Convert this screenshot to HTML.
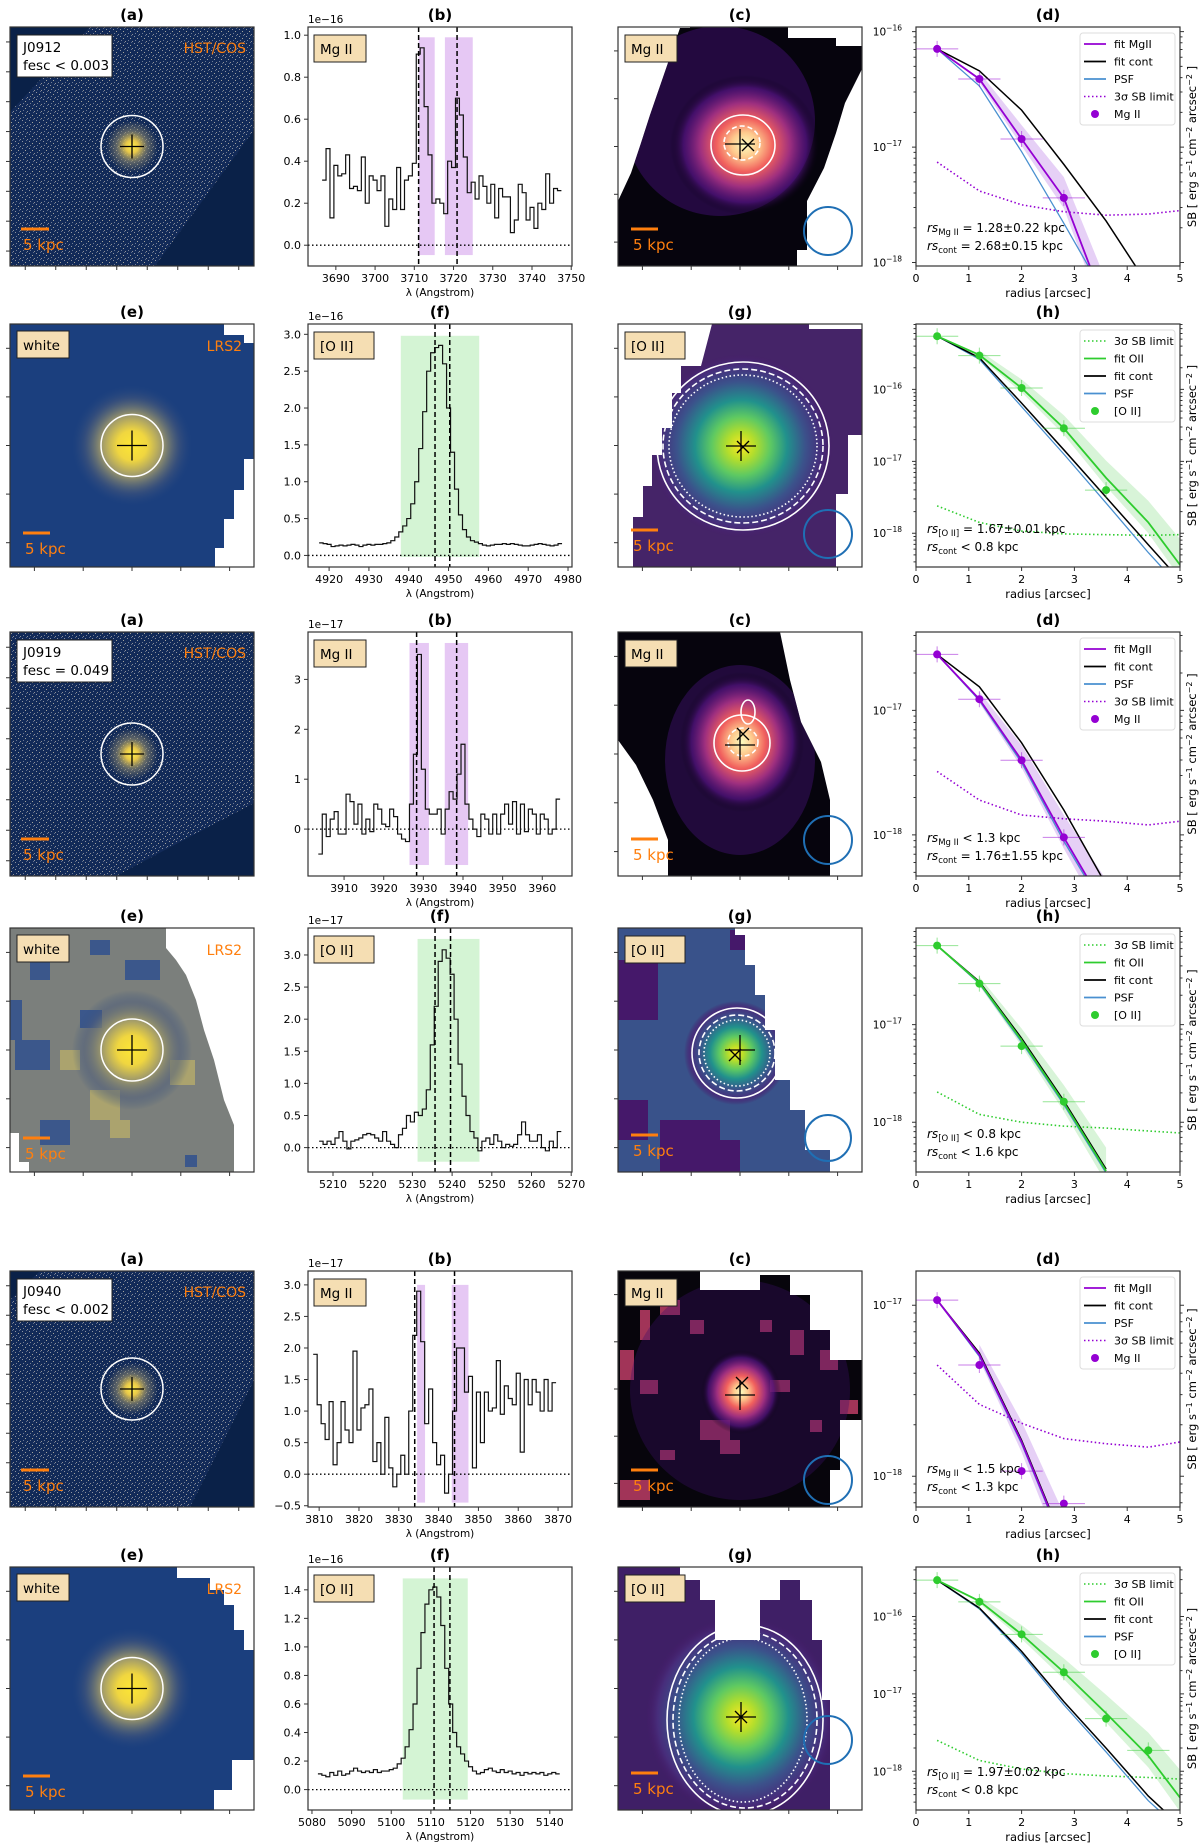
<!DOCTYPE html>
<html><head><meta charset="utf-8"><title>Extended emission figure</title>
<style>
html,body{margin:0;padding:0;background:#fff;}
svg{display:block;font-family:"DejaVu Sans","Liberation Sans",sans-serif;}
</style></head>
<body>
<svg id="fig" width="1200" height="1845" viewBox="0 0 1200 1845" xmlns="http://www.w3.org/2000/svg">
<defs>
<pattern id="speck" width="7" height="7" patternUnits="userSpaceOnUse">
<rect width="7" height="7" fill="#122a58"/>
<rect x="1" y="1" width="1" height="1" fill="#8d93a0"/>
<rect x="4" y="3" width="1" height="1" fill="#a3a39a"/>
<rect x="2" y="5" width="1" height="1" fill="#6f7c95"/>
<rect x="6" y="6" width="1" height="1" fill="#8d8f95"/>
<rect x="5" y="0" width="1" height="1" fill="#5e6d8c"/>
</pattern>
<radialGradient id="hstCore"><stop offset="0" stop-color="#fff04a"/><stop offset="0.25" stop-color="#e8c84a"/><stop offset="0.6" stop-color="#8f8a70" stop-opacity="0.6"/><stop offset="1" stop-color="#8f8a70" stop-opacity="0"/></radialGradient>
<radialGradient id="lrsCore"><stop offset="0" stop-color="#fde634"/><stop offset="0.25" stop-color="#f0d640"/><stop offset="0.5" stop-color="#a09a6a"/><stop offset="0.8" stop-color="#4a5a7a" stop-opacity="0.5"/><stop offset="1" stop-color="#2a4a80" stop-opacity="0"/></radialGradient>
<radialGradient id="magma"><stop offset="0" stop-color="#fcfdbf"/><stop offset="0.18" stop-color="#fec98d"/><stop offset="0.38" stop-color="#f1605d"/><stop offset="0.6" stop-color="#9e2f7f"/><stop offset="0.82" stop-color="#51127c" stop-opacity="0.7"/><stop offset="1" stop-color="#000004" stop-opacity="0"/></radialGradient>
<radialGradient id="viridis"><stop offset="0" stop-color="#fde725"/><stop offset="0.15" stop-color="#b5de2b"/><stop offset="0.32" stop-color="#5ec962"/><stop offset="0.5" stop-color="#21918c"/><stop offset="0.7" stop-color="#3b528b"/><stop offset="0.88" stop-color="#472d7b"/><stop offset="1" stop-color="#471a6a" stop-opacity="0"/></radialGradient>
</defs>
</svg>
<script>
// ---------------- data ----------------
const spec1Start = 3687, spec1Step = 1;
const spec1Flux = [.31,.46,.13,.38,.33,.34,.43,.27,.28,.26,.42,.2,.33,.31,.26,.33,.09,.22,.17,.37,.17,.31,.33,.39,.91,.94,.66,.43,.2,.22,.2,.15,.4,.37,.7,.62,.42,.25,.3,.22,.33,.28,.2,.29,.13,.27,.23,.23,.06,.12,.29,.25,.12,.18,.08,.2,.17,.34,.2,.27,.26];
const spec2Start = 4918, spec2Step = 1;
const spec2Flux = [.17,.16,.15,.12,.13,.14,.13,.14,.15,.14,.12,.14,.15,.14,.15,.15,.16,.17,.2,.25,.32,.4,.5,.7,1.0,1.45,1.95,2.5,2.75,2.82,2.85,2.6,2.0,1.4,.9,.55,.35,.25,.2,.18,.16,.14,.13,.14,.15,.15,.16,.15,.16,.15,.14,.13,.13,.14,.15,.16,.15,.14,.13,.14,.16];
const spec3Start = 3904, spec3Step = 1;
const spec3Flux = [-.5,.3,-.15,.2,.35,-.1,-.1,.7,.55,.1,.5,-.1,.2,-.05,.5,.4,.1,.05,.4,.25,-.1,-.2,-.25,.5,1.5,3.5,1.2,.4,.3,.3,.4,-.1,.4,.75,.6,1.1,1.7,.5,.2,0,-.15,.3,.2,-.1,.3,-.1,.3,.5,.1,.55,-.1,.5,-.05,.4,.3,-.1,.3,.2,-.1,0,.6];
const spec4Start = 5207, spec4Step = 1;
const spec4Flux = [.1,.05,.1,.05,.15,.25,.1,-.02,.1,.12,.15,.2,.22,.2,.15,.1,.25,.1,.05,0,.2,.3,.5,.4,.55,.5,.6,.9,1.6,2.2,2.9,3.08,2.95,2.7,2.0,1.3,.8,.5,.25,.15,-.05,.1,.15,.05,.2,.1,0,.05,.02,.05,.2,.4,.2,.1,.1,.2,0,-.05,.1,0,.25];
const spec5Start = 3809, spec5Step = 1;
const spec5Flux = [1.9,1.1,.8,.55,1.15,.15,.5,1.15,.7,.5,1.95,.7,1.05,1.1,1.35,.2,.5,0,.9,.1,-.2,0,.3,0,1.0,2.2,2.9,2.1,.8,1.35,.5,.15,.3,-.3,0,1.0,2.0,2.0,1.3,1.55,.1,1.3,.5,1.3,1.0,1.05,1.8,.95,1.4,1.2,1.1,1.6,.35,1.5,1.1,1.5,1.3,1.0,1.5,1.0,1.45];
const spec6Start = 5082, spec6Step = 1;
const spec6Flux = [.11,.1,.09,.12,.1,.13,.1,.11,.13,.15,.13,.12,.13,.12,.14,.12,.13,.13,.14,.15,.18,.22,.3,.42,.6,.85,1.1,1.3,1.4,1.42,1.35,1.15,.85,.6,.4,.3,.25,.2,.16,.13,.11,.12,.14,.15,.13,.12,.14,.12,.13,.11,.12,.1,.12,.11,.12,.11,.12,.1,.11,.12,.11];
const specXTicks = [[3690,3700,3710,3720,3730,3740,3750],[4920,4930,4940,4950,4960,4970,4980],[3910,3920,3930,3940,3950,3960],[5210,5220,5230,5240,5250,5260,5270],[3810,3820,3830,3840,3850,3860,3870],[5080,5090,5100,5110,5120,5130,5140]];
const specYTicks = [[0,0.2,0.4,0.6,0.8,1.0],[0,0.5,1,1.5,2,2.5,3],[0,1,2,3],[0,0.5,1,1.5,2,2.5,3],[-0.5,0,0.5,1,1.5,2,2.5,3],[0,0.2,0.4,0.6,0.8,1.0,1.2,1.4]];
const specXRange = [[3682.9,3750.2],[4914.7,4981],[3900.9,3967.5],[5203.7,5270.2],[3807.2,3873.5],[5079,5145.6]];
const specYRange = [[-0.099,1.039],[-0.157,3.14],[-0.94,3.95],[-0.38,3.42],[-0.52,3.22],[-0.143,1.56]];
const specLines = [[3711.1,3720.9],[4946.6,4950.3],[3928.3,3938.4],[5235.7,5239.6],[3834,3844],[5110.8,5114.8]];
const specBands = [[[3711.1,3715.2],[3717.8,3724.9]],[[4938,4957.7]],[[3926.5,3931.4],[3935.4,3941.3]],[[5231.3,5246.9]],[[3834.6,3836.6],[3843.3,3847.5]],[[5102.9,5119.3]]];
const specBandY = [[-0.047,0.99],[-0.02,2.98],[-0.72,3.73],[-0.22,3.25],[-0.45,3.0],[-0.07,1.48]];
const specExp = ['1e\u221216','1e\u221216','1e\u221217','1e\u221217','1e\u221217','1e\u221216'];
const specLabel = ['Mg II','[O II]','Mg II','[O II]','Mg II','[O II]'];

const profR = [0.4,1.2,2.0,2.8,3.6,4.4,5.0];
const prof1Pts = [-16.15,-16.41,-16.93,-17.44];
const prof1Fit = [-16.15,-16.41,-16.93,-17.44,-18.4];
const prof1Cont = [-16.15,-16.34,-16.68,-17.15,-17.64,-18.2];
const prof1Psf = [-16.15,-16.47,-17.04,-17.66,-18.3];
const prof1Lim = [-17.13,-17.38,-17.5,-17.56,-17.59,-17.58,-17.55];
const prof2Pts = [-15.26,-15.53,-15.98,-16.54,-17.40];
const prof2Fit = [-15.26,-15.52,-15.98,-16.54,-17.23,-17.85,-18.44];
const prof2Cont = [-15.26,-15.56,-16.19,-16.84,-17.5,-18.16,-18.65];
const prof2Psf = [-15.26,-15.58,-16.24,-16.9,-17.58,-18.27,-18.75];
const prof2Lim = [-17.62,-17.85,-17.97,-18.01,-18.02,-18.03,-18.02];
const prof3Pts = [-16.55,-16.91,-17.40,-18.02];
const prof3Fit = [-16.55,-16.91,-17.40,-18.02,-18.6];
const prof3Cont = [-16.55,-16.81,-17.26,-17.80,-18.4];
const prof3Psf = [-16.55,-16.92,-17.42,-18.05,-18.62];
const prof3Lim = [-17.49,-17.72,-17.84,-17.87,-17.89,-17.92,-17.89];
const prof4Pts = [-16.19,-16.58,-17.22,-17.79];
const prof4Fit = [-16.19,-16.57,-17.16,-17.8,-18.5];
const prof4Cont = [-16.19,-16.56,-17.14,-17.78,-18.48];
const prof4Psf = [-16.19,-16.58,-17.18,-17.82,-18.52];
const prof4Lim = [-17.69,-17.92,-18.0,-18.04,-18.06,-18.09,-18.11];
const prof5Pts = [-16.97,-17.35,-17.97,-18.16];
const prof5Fit = [-16.97,-17.29,-17.8,-18.4];
const prof5Cont = [-16.97,-17.28,-17.79,-18.39];
const prof5Psf = [-16.97,-17.3,-17.81,-18.41];
const prof5Lim = [-17.35,-17.58,-17.69,-17.78,-17.81,-17.83,-17.80];
const prof6Pts = [-15.53,-15.81,-16.23,-16.72,-17.32,-17.73];
const prof6Fit = [-15.53,-15.8,-16.23,-16.72,-17.25,-17.8,-18.34];
const prof6Cont = [-15.53,-15.89,-16.45,-17.1,-17.7,-18.32,-18.7];
const prof6Psf = [-15.53,-15.9,-16.48,-17.14,-17.75,-18.38,-18.75];
const prof6Lim = [-17.6,-17.86,-17.97,-18.03,-18.06,-18.08,-18.1];
const profYRange = [[-18.03,-15.96],[-18.47,-15.09],[-18.33,-16.37],[-18.51,-16.01],[-18.18,-16.80],[-18.5,-15.36]];
const profXTicks = [0,1,2,3,4,5];

// ---------------- layout ----------------
const NS = 'http://www.w3.org/2000/svg';
const svg = document.getElementById('fig');
const COLS = {a:[10,244], b:[308,264], c:[618,244], d:[916,264]};
const ROWS = [[27,266],[324,567],[632,876],[928,1172],[1271,1507],[1567,1810]];
const PURPLE = '#9400d3', GREEN = '#2ecc2e', PSFC = '#4a90d0';

function mk(tag, attrs, parent){
  const e = document.createElementNS(NS, tag);
  for (const k in attrs) e.setAttribute(k, attrs[k]);
  (parent || svg).appendChild(e);
  return e;
}
function txt(s, x, y, size, parent, extra){
  const t = mk('text', Object.assign({x:x, y:y, 'font-size':size, fill:'#000'}, extra || {}), parent);
  t.textContent = s;
  return t;
}
function frame(g, x, y, w, h){
  const r = mk('rect', {x:x, y:y, width:w, height:h, fill:'none', stroke:'#333', 'stroke-width':1.2}, g);
  
  
}
function title(g, s, cx, y){
  const t = txt(s, cx, y, 15, g, {'text-anchor':'middle', 'font-weight':'bold'});
  
  
}
function labelBox(g, s, x, y, fill, lines){
  const w = lines ? 95 : Math.max(38, s.length * 8 + 12);
  const h = lines ? 42 : 27;
  const r = mk('rect', {x:x, y:y, width:w, height:h, fill:fill, stroke:'#222', 'stroke-width':1}, g);
  
  
  if (lines) {
    const t1 = txt(lines[0], x+6, y+17, 13.5, g);
    
    
    const t2 = txt(lines[1], x+6, y+35, 13.5, g);
    
    
  } else {
    const t = txt(s, x+6, y+19, 13.5, g);
    
    
  }
}

function imageTicks(g, x, y, w, h, nx, ny){
  for (let i=0;i<nx;i++){
    const tx = x + (i+0.5)*w/nx;
    const t = mk('line', {x1:tx, y1:y+h, x2:tx, y2:y+h+4, stroke:'#333'}, g);
    
    
  }
  for (let i=0;i<ny;i++){
    const ty = y + (i+0.5)*h/ny;
    const t = mk('line', {x1:x, y1:ty, x2:x-4, y2:ty, stroke:'#333'}, g);
    
    
  }
}
function cross(g, cx, cy, s){
  const p = mk('path', {d:`M${cx-s} ${cy}H${cx+s}M${cx} ${cy-s}V${cy+s}`, stroke:'#000', 'stroke-width':1.3}, g);
  
  
}
function xmark(g, cx, cy, s){
  const p = mk('path', {d:`M${cx-s} ${cy-s}L${cx+s} ${cy+s}M${cx-s} ${cy+s}L${cx+s} ${cy-s}`, stroke:'#000', 'stroke-width':1.3}, g);
  
  
}
function scaleBar(g, x, y, len){
  const l = mk('line', {x1:x, y1:y, x2:x+len, y2:y, stroke:'#ff7f0e', 'stroke-width':3}, g);
  
  
  const t = txt('5 kpc', x+2, y+21, 15, g, {fill:'#ff7f0e'});
  
  
}
function poly(g, pts, fill, name){
  const p = mk('polygon', {points:pts.map(p=>p.join(',')).join(' '), fill:fill}, g);
  
  
  return p;
}
function psfCircle(g, cx, cy, r){
  const c = mk('circle', {cx:cx, cy:cy, r:r, fill:'none', stroke:'#1f6fb4', 'stroke-width':2}, g);
  
  
}
function contour(g, cx, cy, rx, ry, dash, name){
  const e = mk('ellipse', {cx:cx, cy:cy, rx:rx, ry:ry, fill:'none', stroke:'#fff', 'stroke-width':1.6}, g);
  if (dash) e.setAttribute('stroke-dasharray', dash);
  
  
}

function panelA(ri, name, fesc, darkPolys, lbl){
  const [x,w] = COLS.a, [y0,y1] = ROWS[ri], h = y1-y0;
  const g = mk('g', {});  
  const clip = mk('clipPath', {id:'clipA'+ri}, g);
  mk('rect', {x:x, y:y0, width:w, height:h}, clip);
  const ig = mk('g', {'clip-path':`url(#clipA${ri})`}, g);
  const bg = mk('rect', {x:x, y:y0, width:w, height:h, fill:'url(#speck)'}, ig);
  
  
  darkPolys.forEach(p => poly(ig, p, '#0a2148', 'image-footprint-edge'));
  const cx = x + w/2, cy = (y0+y1)/2;
  const core = mk('circle', {cx:cx, cy:cy, r:26, fill:'url(#hstCore)'}, ig);
  
  
  const ap = mk('ellipse', {cx:cx, cy:cy, rx:31, ry:31, fill:'none', stroke:'#fff', 'stroke-width':1.5}, ig);
  
  
  cross(ig, cx, cy, 12);
  frame(g, x, y0, w, h);
  imageTicks(g, x, y0, w, h, 8, 8);
  title(g, '(a)', cx, y0-7);
  labelBox(g, '', x+7, y0+8, '#fff', [name, fesc]);
  const tl = txt(lbl, x+w-8, y0+26, 14, g, {fill:'#ff7f0e', 'text-anchor':'end'});
  
  
  scaleBar(g, x+11, y1-37, 28);
}

function panelE(ri, base, whitePolys, extra){
  const [x,w] = COLS.a, [y0,y1] = ROWS[ri], h = y1-y0;
  const g = mk('g', {});  
  const bg = mk('rect', {x:x, y:y0, width:w, height:h, fill:base}, g);
  
  
  if (extra) extra(g, x, y0, w, h);
  const cx = x + w/2, cy = (y0+y1)/2;
  const core = mk('circle', {cx:cx, cy:cy, r:60, fill:'url(#lrsCore)'}, g);
  
  
  whitePolys.forEach(p => poly(g, p, '#fff', 'no-data-region'));
  const ap = mk('circle', {cx:cx, cy:cy, r:31, fill:'none', stroke:'#fff', 'stroke-width':1.5}, g);
  
  
  cross(g, cx, cy, 15);
  frame(g, x, y0, w, h);
  imageTicks(g, x, y0, w, h, 5, 5);
  title(g, '(e)', cx, y0-7);
  labelBox(g, 'white', x+7, y0+7, '#f5deb3');
  const tl = txt('LRS2', x+w-12, y0+27, 14, g, {fill:'#ff7f0e', 'text-anchor':'end'});
  
  
  scaleBar(g, x+13, y1-34, 27);
}

function panelMap(ri, letter, lab, bgFill, foot, grad, blob, contours, marks, psf, extra){
  const [x,w] = COLS.c, [y0,y1] = ROWS[ri], h = y1-y0;
  const g = mk('g', {});  
  const clip = mk('clipPath', {id:'clipC'+ri}, g);
  mk('polygon', {points:foot.map(p=>p.join(',')).join(' ')}, clip);
  const ig = mk('g', {'clip-path':`url(#clipC${ri})`}, g);
  const bg = mk('rect', {x:x, y:y0, width:w, height:h, fill:bgFill}, ig);
  
  
  if (extra) extra(ig);
  const b = mk('ellipse', {cx:blob[0], cy:blob[1], rx:blob[2], ry:blob[3], fill:grad}, ig);
  
  
  contours.forEach(c => contour(ig, c[0], c[1], c[2], c[3], c[4], 'sb-contour'));
  cross(ig, marks[0], marks[1], 15);
  xmark(ig, marks[2], marks[3], 6);
  psfCircle(g, psf[0], psf[1], psf[2]);
  frame(g, x, y0, w, h);
  imageTicks(g, x, y0, w, h, 5, 5);
  title(g, letter, x+w/2, y0-7);
  labelBox(g, lab, x+7, y0+8, '#f5deb3');
  scaleBar(g, x+13, y1-37, 27);
}

function panelSpec(ri, letter, start, step, flux, bandColor){
  const [x,w] = COLS.b, [y0,y1] = ROWS[ri], h = y1-y0;
  const [xmin,xmax] = specXRange[ri], [ymin,ymax] = specYRange[ri];
  const X = v => x + (v-xmin)/(xmax-xmin)*w;
  const Y = v => y1 - (v-ymin)/(ymax-ymin)*h;
  const g = mk('g', {});  
  specBands[ri].forEach(bd => {
    const r = mk('rect', {x:X(bd[0]), y:Y(specBandY[ri][1]), width:X(bd[1])-X(bd[0]), height:Y(specBandY[ri][0])-Y(specBandY[ri][1]), fill:bandColor}, g);
    
    
  });
  const z = mk('line', {x1:x, y1:Y(0), x2:x+w, y2:Y(0), stroke:'#000', 'stroke-width':1.3, 'stroke-dasharray':'1.5 2.5'}, g);
  
  
  let d = '';
  flux.forEach((f,i) => {
    const wl = start + i*step;
    const xa = X(wl - step/2), xb = X(wl + step/2);
    d += (i===0 ? `M${xa} ${Y(f)}` : `V${Y(f)}`) + `H${xb}`;
  });
  const p = mk('path', {d:d, fill:'none', stroke:'#111', 'stroke-width':1.2}, g);
  
  
  specLines[ri].forEach(l => {
    const v = mk('line', {x1:X(l), y1:y0, x2:X(l), y2:y1, stroke:'#000', 'stroke-width':1.5, 'stroke-dasharray':'5 3'}, g);
    
    
  });
  frame(g, x, y0, w, h);
  specXTicks[ri].forEach(t => {
    const tk = mk('line', {x1:X(t), y1:y1, x2:X(t), y2:y1+4, stroke:'#333'}, g);
    
    
    const tl = txt(String(t), X(t), y1+16, 11, g, {'text-anchor':'middle'});
    
    
  });
  specYTicks[ri].forEach(t => {
    const tk = mk('line', {x1:x, y1:Y(t), x2:x-4, y2:Y(t), stroke:'#333'}, g);
    
    
    const s = (ri===2) ? String(t) : t.toFixed(1).replace('-', '\u2212');
    const tl = txt(s, x-7, Y(t)+4, 11, g, {'text-anchor':'end'});
    
    
  });
  const ex = txt(specExp[ri], x, y0-4, 10.5, g);
  
  
  const xl = txt('\u03bb (Angstrom)', x+w/2, y1+30, 10.5, g, {'text-anchor':'middle'});
  
  
  title(g, letter, x+w/2, y0-7);
  labelBox(g, specLabel[ri], x+6, y0+8, '#f5deb3');
}

function panelProf(ri, letter, pts, fit, cont, psf, lim, lineColor, isMg, ann){
  const [x,w] = COLS.d, [y0,y1] = ROWS[ri], h = y1-y0;
  const [lmin,lmax] = profYRange[ri];
  const X = r => x + r/5*w;
  const Y = l => y1 - (l-lmin)/(lmax-lmin)*h;
  const g = mk('g', {});  
  const clip = mk('clipPath', {id:'clipD'+ri}, g);
  mk('rect', {x:x, y:y0, width:w, height:h}, clip);
  const pg = mk('g', {'clip-path':`url(#clipD${ri})`}, g);
  const band = isMg ? '#dcbcf2' : '#c8f0c8';
  let up = [], dn = [];
  fit.forEach((v,i) => { if (i>=1){ up.push([X(profR[i]), Y(v + 0.06*i)]); dn.push([X(profR[i]), Y(v - 0.03*i)]); } });
  const sh = mk('polygon', {points:up.concat(dn.reverse()).map(p=>p.join(',')).join(' '), fill:band, opacity:0.7}, pg);
  
  
  function line(arr, color, wdt, dash, name){
    const d = arr.map((v,i) => (i?'L':'M') + X(profR[i]) + ' ' + Y(v)).join('');
    const p = mk('path', {d:d, fill:'none', stroke:color, 'stroke-width':wdt}, pg);
    if (dash) p.setAttribute('stroke-dasharray', dash);
    
    
  }
  line(lim, lineColor, 1.6, '1.5 2.5', 'sb-limit-curve');
  line(psf, PSFC, 1.3, null, 'psf-curve');
  line(cont, '#000', 1.5, null, 'continuum-fit-curve');
  line(fit, lineColor, 1.8, null, 'line-fit-curve');
  pts.forEach((v,i) => {
    const px = X(profR[i]), py = Y(v);
    const eb = mk('path', {d:`M${X(profR[i]-0.4)} ${py}H${X(profR[i]+0.4)}M${px} ${py-8}V${py+8}`, stroke:lineColor, 'stroke-width':1, opacity:0.5}, pg);
    
    
    const c = mk('circle', {cx:px, cy:py, r:4, fill:lineColor}, pg);
    
    
  });
  frame(g, x, y0, w, h);
  profXTicks.forEach(t => {
    const tk = mk('line', {x1:X(t), y1:y1, x2:X(t), y2:y1+4, stroke:'#333'}, g);
    
    
    const tl = txt(String(t), X(t), y1+16, 11, g, {'text-anchor':'middle'});
    
    
  });
  for (let dec=-19; dec<=-15; dec++){
    for (let m=1; m<10; m++){
      const l = dec + Math.log10(m);
      if (l < lmin || l > lmax) continue;
      const ty = Y(l), len = m===1 ? 4 : 2.5;
      const tk = mk('path', {d:`M${x} ${ty}h${-len}M${x+w} ${ty}h${len}`, stroke:'#333'}, g);
      
      
      if (m===1){
        const tl = txt('10', x-14, ty+4, 10.5, g, {'text-anchor':'end'});
        const sup = mk('tspan', {dy:-5, 'font-size':7.5}, tl);
        sup.textContent = '\u2212' + (-dec);
        
        
      }
    }
  }
  const xl = txt('radius [arcsec]', x+w/2, y1+31, 11.5, g, {'text-anchor':'middle'});
  
  
  const yl = txt('', 1196, (y0+y1)/2, 11.5, g, {'text-anchor':'middle', transform:`rotate(-90 1196 ${(y0+y1)/2})`});
  yl.innerHTML = 'SB [ erg s<tspan dy="-4" font-size="8">\u22121</tspan><tspan dy="4"> cm</tspan><tspan dy="-4" font-size="8">\u22122</tspan><tspan dy="4"> arcsec</tspan><tspan dy="-4" font-size="8">\u22122</tspan><tspan dy="4"> ]</tspan>';
  
  
  title(g, letter, x+w/2, y0-7);
  const entries = isMg
    ? [['fit MgII','solid',lineColor],['fit cont','solid','#000'],['PSF','solid',PSFC],['3\u03c3 SB limit','dot',lineColor],['Mg II','pt',lineColor]]
    : [['3\u03c3 SB limit','dot',lineColor],['fit OII','solid',lineColor],['fit cont','solid','#000'],['PSF','solid',PSFC],['[O II]','pt',lineColor]];
  const lx = 1080, ly = y0+6;
  const lb = mk('rect', {x:lx, y:ly, width:95, height:92, fill:'#fff', stroke:'#ddd', rx:3}, g);
  
  
  entries.forEach((en,i) => {
    const ey = ly + 11 + i*17.5;
    if (en[1]==='pt'){
      const c = mk('circle', {cx:lx+15, cy:ey, r:4, fill:en[2]}, g);
      
      
    } else {
      const l = mk('line', {x1:lx+4, y1:ey, x2:lx+26, y2:ey, stroke:en[2], 'stroke-width':en[1]==='dot'?1.6:1.8}, g);
      if (en[1]==='dot') l.setAttribute('stroke-dasharray', '1.5 2.5');
      
      
    }
    const t = txt(en[0], lx+34, ey+4, 11, g);
    
    
  });
  ann.forEach((a,i) => {
    const t = txt('', 927, y1-34+i*18, 12, g);
    t.innerHTML = `<tspan font-style="italic">rs</tspan><tspan dy="3" font-size="8.5">${a[0]}</tspan><tspan dy="-3"> ${a[1]}</tspan>`;
    
    
  });
}

// ---------------- build ----------------
panelA(0, 'J0912', 'fesc < 0.003', [[[10,27],[90,27],[10,112]],[[254,130],[254,266],[155,266]]], 'HST/COS');
panelSpec(0, '(b)', spec1Start, spec1Step, spec1Flux, '#e6c8f4');
panelMap(0, '(c)', 'Mg II', '#06040d',
  [[690,27],[788,27],[788,38],[836,38],[836,46],[862,46],[862,69],[845,103],[836,133],[824,168],[807,201],[807,250],[797,250],[797,266],[618,266],[618,201],[631,173],[641,143],[650,115],[660,86],[670,57],[680,28],[690,28]],
  'url(#magma)', [745,145,75,70],
  [[743,145,32,30,null],[742,143,18,17,'5 3']], [740,144,748,145], [828,231,24],
  ig => { const pe = mk('ellipse',{cx:720,cy:121,rx:95,ry:95,fill:'#3c0f6a',opacity:0.55},ig);   });
panelProf(0, '(d)', prof1Pts, prof1Fit, prof1Cont, prof1Psf, prof1Lim, PURPLE, true,
  [['Mg II','= 1.28\u00b10.22 kpc'],['cont','= 2.68\u00b10.15 kpc']]);

panelE(1, '#1b3f7e', [[[215,567],[215,548],[224,548],[224,519],[234,519],[234,490],[244,490],[244,459],[254,459],[254,567]],[[224,324],[254,324],[254,343],[244,343],[244,335],[224,335]]]);
panelSpec(1, '(f)', spec2Start, spec2Step, spec2Flux, '#d4f4d4');
panelMap(1, '(g)', '[O II]', '#452468',
  [[712,324],[809,324],[809,329],[862,329],[862,435],[848,435],[848,494],[836,494],[836,567],[633,567],[633,517],[643,517],[643,486],[652,486],[652,455],[662,455],[662,428],[672,428],[672,393],[681,393],[681,366],[701,366],[712,324]],
  'url(#viridis)', [741,446,92,92],
  [[743,446,86,84,null],[743,446,80,77,'6 3'],[743,446,74,71,'1.5 2.5']], [741,446,743,447], [828,534,24]);
panelProf(1, '(h)', prof2Pts, prof2Fit, prof2Cont, prof2Psf, prof2Lim, GREEN, false,
  [['[O II]','= 1.67\u00b10.01 kpc'],['cont','< 0.8 kpc']]);

panelA(2, 'J0919', 'fesc = 0.049', [[[254,803],[254,876],[116,876]]], 'HST/COS');
panelSpec(2, '(b)', spec3Start, spec3Step, spec3Flux, '#e6c8f4');
panelMap(2, '(c)', 'Mg II', '#06040d',
  [[618,632],[780,632],[790,680],[801,722],[821,762],[830,800],[830,876],[668,876],[668,840],[653,800],[636,765],[618,740]],
  'url(#magma)', [742,742,62,70],
  [[742,743,28,28,null],[743,742,15,14,'5 3'],[748,712,7,12,null]], [740,745,743,734], [828,840,24],
  ig => { const pe = mk('ellipse',{cx:740,cy:760,rx:75,ry:95,fill:'#3c0f6a',opacity:0.5},ig);   });
panelProf(2, '(d)', prof3Pts, prof3Fit, prof3Cont, prof3Psf, prof3Lim, PURPLE, true,
  [['Mg II','< 1.3 kpc'],['cont','= 1.76\u00b11.55 kpc']]);

panelE(3, '#7b7f7c', [[[166,928],[254,928],[254,1172],[234,1172],[234,1125],[224,1100],[214,1060],[204,1030],[196,1000],[186,975],[176,960],[166,948]],[[10,1133],[19,1133],[19,1162],[29,1162],[29,1172],[10,1172]]],
  (g,x,y,w,h) => {
    [[10,1000,12,40],[15,1040,35,30],[80,1010,22,18],[40,1120,30,25],[185,1155,12,12],[90,940,20,15],[125,960,35,20],[30,960,20,20]].forEach(r => { const q = mk('rect',{x:r[0],y:r[1],width:r[2],height:r[3],fill:'#2c4e8e',opacity:0.8},g);   });
    [[90,1090,30,30],[170,1060,25,25],[110,1120,20,18],[60,1050,20,20]].forEach(r => { const q = mk('rect',{x:r[0],y:r[1],width:r[2],height:r[3],fill:'#b8ad6a',opacity:0.8},g);   });
  });
panelSpec(3, '(f)', spec4Start, spec4Step, spec4Flux, '#d4f4d4');
panelMap(3, '(g)', '[O II]', '#39528a',
  [[618,928],[735,928],[735,935],[745,935],[745,965],[755,965],[755,995],[765,995],[765,1030],[775,1030],[775,1080],[790,1080],[790,1110],[805,1110],[805,1150],[830,1150],[830,1172],[618,1172]],
  'url(#viridis)', [736,1053,52,52],
  [[737,1053,45,45,null],[737,1053,38,38,'6 3'],[737,1053,33,33,'1.5 2.5']], [740,1050,735,1055], [828,1138,23],
  ig => { [[618,960,40,60],[660,1120,60,52],[700,1140,40,32],[618,1100,30,40],[730,930,20,20]].forEach(r => { const q = mk('rect',{x:r[0],y:r[1],width:r[2],height:r[3],fill:'#45186a'},ig);   }); });
panelProf(3, '(h)', prof4Pts, prof4Fit, prof4Cont, prof4Psf, prof4Lim, GREEN, false,
  [['[O II]','< 0.8 kpc'],['cont','< 1.6 kpc']]);

panelA(4, 'J0940', 'fesc < 0.002', [[[254,1380],[254,1507],[190,1507]],[[10,1271],[40,1271],[10,1300]]], 'HST/COS');
panelSpec(4, '(b)', spec5Start, spec5Step, spec5Flux, '#e6c8f4');
panelMap(4, '(c)', 'Mg II', '#07050c',
  [[618,1271],[700,1271],[700,1290],[760,1290],[760,1275],[790,1275],[790,1295],[810,1295],[810,1330],[830,1330],[830,1360],[862,1360],[862,1420],[840,1420],[840,1470],[830,1470],[830,1507],[618,1507]],
  'url(#magma)', [741,1392,40,42], [], [740,1395,742,1383], [828,1480,24],
  ig => { [[640,1310,10,30],[660,1300,20,15],[690,1320,14,14],[790,1330,14,25],[820,1350,18,20],[840,1400,18,14],[810,1420,12,12],[700,1420,30,20],[720,1440,20,14],[620,1350,14,30],[640,1380,18,14],[770,1380,20,12],[620,1480,30,20],[660,1450,15,10],[760,1320,12,12]].forEach(r => { const q = mk('rect',{x:r[0],y:r[1],width:r[2],height:r[3],fill:'#c8406c',opacity:0.8},ig);   });
    const pe = mk('ellipse',{cx:740,cy:1390,rx:110,ry:110,fill:'#3c0f6a',opacity:0.35},ig);   });
panelProf(4, '(d)', prof5Pts, prof5Fit, prof5Cont, prof5Psf, prof5Lim, PURPLE, true,
  [['Mg II','< 1.5 kpc'],['cont','< 1.3 kpc']]);

panelE(5, '#1b3f7e', [[[177,1567],[254,1567],[254,1650],[244,1650],[244,1630],[234,1630],[234,1605],[224,1605],[224,1590],[210,1590],[210,1578],[177,1578]],[[254,1760],[254,1810],[214,1810],[214,1790],[232,1790],[232,1760]]]);
panelSpec(5, '(f)', spec6Start, spec6Step, spec6Flux, '#d4f4d4');
panelMap(5, '(g)', '[O II]', '#3f1f66',
  [[618,1567],[680,1567],[680,1580],[700,1580],[700,1600],[715,1600],[715,1640],[760,1640],[760,1600],[780,1600],[780,1580],[800,1580],[800,1600],[812,1600],[812,1640],[822,1640],[822,1700],[830,1700],[830,1810],[618,1810]],
  'url(#viridis)', [741,1717,95,100],
  [[745,1720,78,95,null],[745,1720,72,88,'6 3'],[743,1720,64,82,'1.5 2.5']], [741,1717,741,1717], [828,1740,24]);
panelProf(5, '(h)', prof6Pts, prof6Fit, prof6Cont, prof6Psf, prof6Lim, GREEN, false,
  [['[O II]','= 1.97\u00b10.02 kpc'],['cont','< 0.8 kpc']]);
</script>
</body></html>
